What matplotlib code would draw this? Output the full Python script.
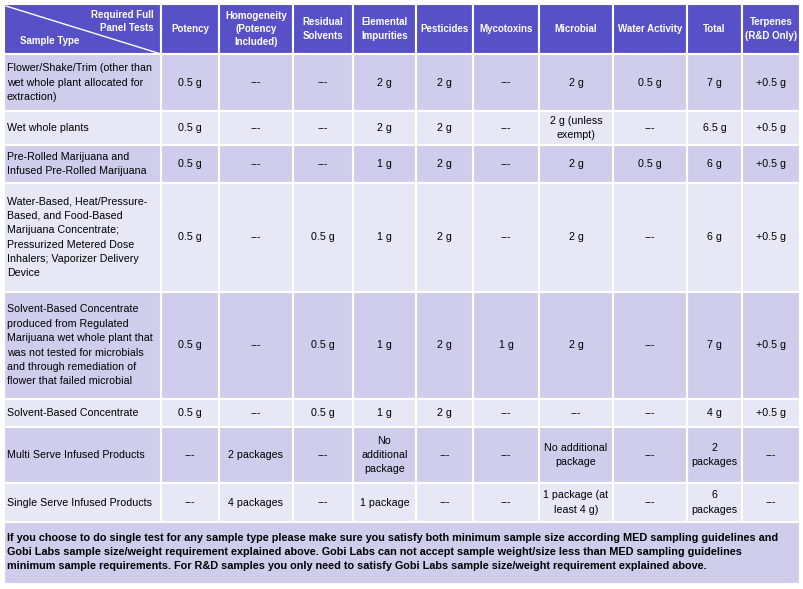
import matplotlib.pyplot as plt
from matplotlib.patches import Rectangle

plt.rcParams['font.family'] = ['Liberation Sans Narrow', 'Liberation Sans', 'DejaVu Sans']

# table content
headers = ['Potency', 'Homogeneity\n(Potency\nIncluded)', 'Residual\nSolvents', 'Elemental\nImpurities',
           'Pesticides', 'Mycotoxins', 'Microbial', 'Water Activity', 'Total', 'Terpenes\n(R&D Only)']
sample_types = [
    'Flower/Shake/Trim (other than\nwet whole plant allocated for\nextraction)',
    'Wet whole plants',
    'Pre-Rolled Marijuana and\nInfused Pre-Rolled Marijuana',
    'Water-Based, Heat/Pressure-\nBased, and Food-Based\nMarijuana Concentrate;\nPressurized Metered Dose\nInhalers; Vaporizer Delivery\nDevice',
    'Solvent-Based Concentrate\nproduced from Regulated\nMarijuana wet whole plant that\nwas not tested for microbials\nand through remediation of\nflower that failed microbial',
    'Solvent-Based Concentrate',
    'Multi Serve Infused Products',
    'Single Serve Infused Products',
]
cells = [
    ['0.5 g', '---', '---', '2 g', '2 g', '---', '2 g', '0.5 g', '7 g', '+0.5 g'],
    ['0.5 g', '---', '---', '2 g', '2 g', '---', '2 g (unless\nexempt)', '---', '6.5 g', '+0.5 g'],
    ['0.5 g', '---', '---', '1 g', '2 g', '---', '2 g', '0.5 g', '6 g', '+0.5 g'],
    ['0.5 g', '---', '0.5 g', '1 g', '2 g', '---', '2 g', '---', '6 g', '+0.5 g'],
    ['0.5 g', '---', '0.5 g', '1 g', '2 g', '1 g', '2 g', '---', '7 g', '+0.5 g'],
    ['0.5 g', '---', '0.5 g', '1 g', '2 g', '---', '---', '---', '4 g', '+0.5 g'],
    ['---', '2 packages', '---', 'No\nadditional\npackage', '---', '---', 'No additional\npackage', '---', '2\npackages', '---'],
    ['---', '4 packages', '---', '1 package', '---', '---', '1 package (at\nleast 4 g)', '---', '6\npackages', '---'],
]
footnote = ('If you choose to do single test for any sample type please make sure you satisfy both minimum sample size according MED sampling guidelines and\n'
            'Gobi Labs sample size/weight requirement explained above. Gobi Labs can not accept sample weight/size less than MED sampling guidelines\n'
            'minimum sample requirements. For R&D samples you only need to satisfy Gobi Labs sample size/weight requirement explained above.')

# layout in pixels
col_x = [4, 161, 219, 293, 353, 416, 473, 539, 613, 687, 742, 800]
row_y = [4, 54, 111, 145, 183, 292, 399, 427, 483, 522, 584]

header_color = '#5850c6'
dark = '#cfcdeb'
light = '#e8e7f5'

fig = plt.figure(figsize=(8.04, 5.89), dpi=100)
ax = fig.add_axes([0, 0, 1, 1])
ax.set_xlim(0, 804)
ax.set_ylim(589, 0)
ax.axis('off')

def cell(x0, x1, y0, y1, color):
    ax.add_patch(Rectangle((x0, y0), x1 - x0, y1 - y0, facecolor=color,
                           edgecolor='white', linewidth=1.5))

fs = 7.7
hfs = 7.0

# header
for i in range(len(col_x) - 1):
    cell(col_x[i], col_x[i + 1], row_y[0], row_y[1], header_color)
for j, h in enumerate(headers):
    ax.text((col_x[j + 1] + col_x[j + 2]) / 2, (row_y[0] + row_y[1]) / 2, h, ha='center', va='center',
            color='white', fontsize=hfs, fontweight='bold', linespacing=1.4)
ax.plot([col_x[0] + 2, col_x[1]], [row_y[0] + 2, row_y[1]], color='white', lw=1)
ax.text(col_x[1] - 7, row_y[0] + 6, 'Required Full\nPanel Tests', ha='right', va='top',
        color='white', fontsize=hfs, fontweight='bold', linespacing=1.4)
ax.text(col_x[0] + 16, row_y[1] - 8, 'Sample Type', ha='left', va='bottom',
        color='white', fontsize=hfs, fontweight='bold')

# body
for r, (label, vals) in enumerate(zip(sample_types, cells)):
    y0, y1 = row_y[r + 1], row_y[r + 2]
    color = dark if r % 2 == 0 else light
    for i in range(len(col_x) - 1):
        cell(col_x[i], col_x[i + 1], y0, y1, color)
    yc = (y0 + y1) / 2
    ax.text(col_x[0] + 3, yc, label, ha='left', va='center', fontsize=fs, color='black', linespacing=1.55)
    for j, v in enumerate(vals):
        ax.text((col_x[j + 1] + col_x[j + 2]) / 2, yc, v, ha='center', va='center',
                fontsize=fs, color='black', linespacing=1.55)

# footnote
cell(col_x[0], col_x[-1], row_y[-2], row_y[-1], dark)
ax.text(col_x[0] + 3, (row_y[-2] + row_y[-1]) / 2 - 1, footnote, ha='left', va='center',
        fontsize=7.85, fontweight='bold', color='black', linespacing=1.45)

fig.savefig('out.png', dpi=100)
